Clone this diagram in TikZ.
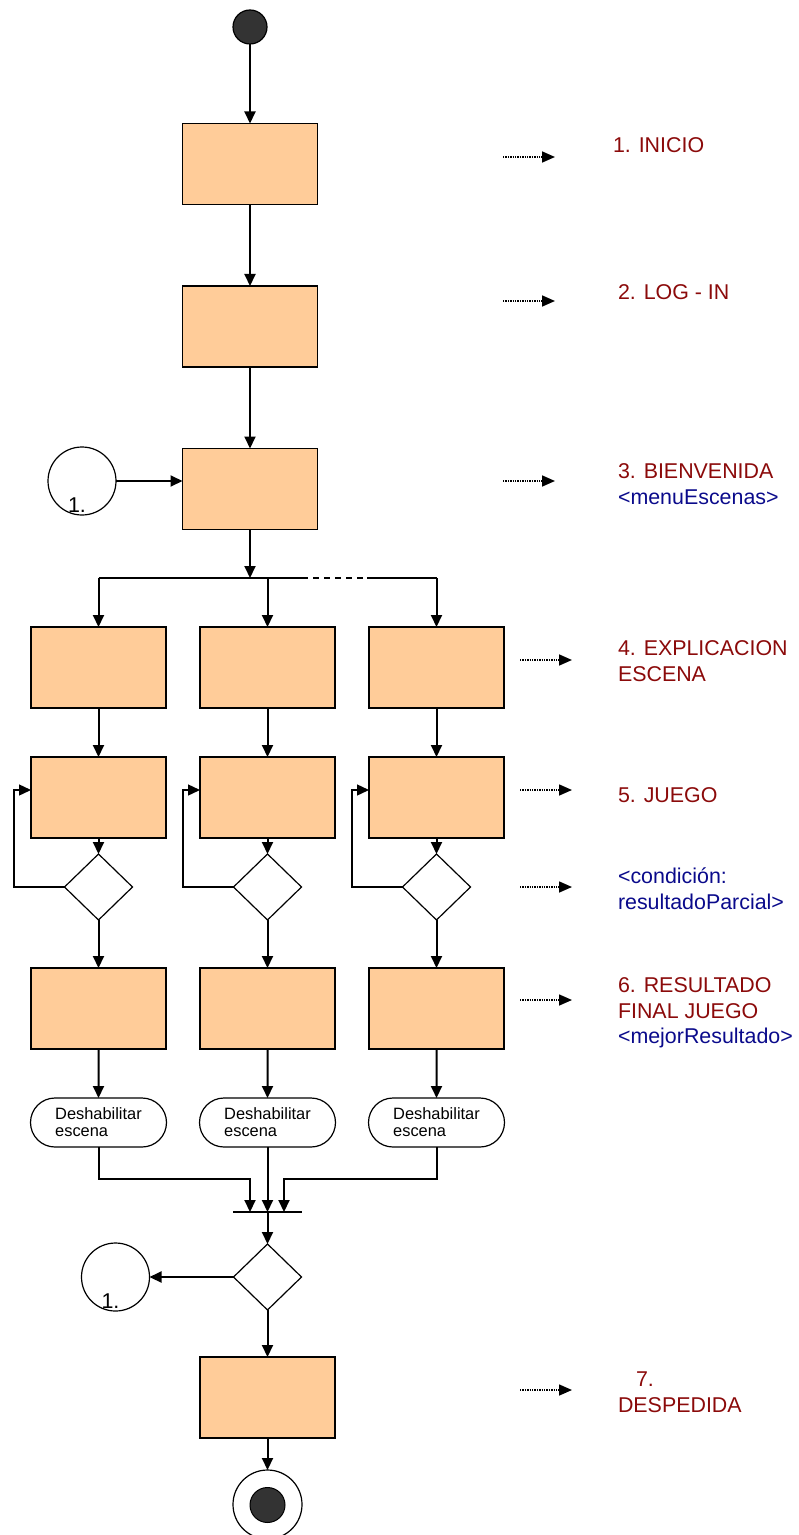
\documentclass[tikz,border=0pt]{standalone}
\usepackage{fontspec}
\setmainfont{Liberation Sans}
\usetikzlibrary{arrows.meta,shapes.geometric,shapes.misc}
\definecolor{peach}{HTML}{FFCC99}
\definecolor{lblred}{HTML}{8B0A0A}
\definecolor{lblblue}{HTML}{0A0A8B}
\definecolor{dark}{HTML}{333333}
\begin{document}
\begin{tikzpicture}[x=0.5pt,y=-0.5pt,
  every node/.style={inner sep=0pt,outer sep=0pt},
  act/.style={draw=black,line width=0.8pt,fill=peach,minimum width=67.5pt,minimum height=40.5pt},
  dec/.style={draw=black,line width=0.6pt,fill=white,diamond,minimum width=34pt,minimum height=33pt},
  conn/.style={draw=black,line width=0.6pt,circle,minimum size=34pt},
  dis/.style={draw=black,line width=0.6pt,rounded rectangle,minimum width=68pt,minimum height=24.5pt,
      font=\fontsize{8.2}{8.6}\selectfont,align=left},
  flow/.style={line width=1pt,-{Triangle[length=6pt,width=5.5pt]}},
  line/.style={line width=1pt},
  loop/.style={line width=0.7pt,-{Triangle[length=6pt,width=5.5pt]}},
  dots/.style={line width=0.8pt,dash pattern=on 0.7pt off 0.5pt,-{Triangle[length=6.5pt,width=5.5pt]}},
  lbl/.style={anchor=west,align=left,font=\fontsize{10.7}{12.8}\selectfont},
  onelbl/.style={font=\fontsize{10.7}{12.8}\selectfont,text=black}
]
\useasboundingbox (0,0) rectangle (798,1535);

% start
\node[circle,draw=black,line width=0.6pt,fill=dark,minimum size=17pt] (start) at (250,27) {};

% top column
\node[act] (b1) at (250,164) {};
\node[act] (b2) at (250,326.5) {};
\node[act] (b3) at (250,489) {};
\node[conn,label={[onelbl,xshift=-2.5pt,yshift=-12pt]center:1.}] (c1) at (82,481) {};

\draw[flow] (start) -- (b1);
\draw[flow] (b1) -- (b2);
\draw[flow] (b2) -- (b3);
\draw[flow] (c1.east) -- (c1.east -| b3.west);

% branch
\coordinate (br) at (250,578);
\coordinate (brL) at (98.5,578);
\coordinate (brM) at (267.5,578);
\coordinate (brR) at (436.5,578);
\coordinate (dA) at (302,578);
\coordinate (dB) at (367,578);
\draw[flow] (b3.south) -- (br);
\draw[line] (brL) -- (dA);
\draw[line,dash pattern=on 3pt off 2.5pt] (dA) -- (dB);
\draw[line] (dB) -- (brR);

% three columns
\foreach \i/\x in {1/98.5,2/267.5,3/436.5}{
  \node[act] (e\i) at (\x,667.5) {};
  \node[act] (j\i) at (\x,797.5) {};
  \node[dec] (d\i) at (\x,887) {};
  \node[act] (r\i) at (\x,1008.5) {};
  \node[dis] (h\i) at (\x,1122.5) {Deshabilitar\\escena};
  \coordinate (lp\i) at (\x-84.5,887);
  \coordinate (lq\i) at (\x-84.5,790);
  \coordinate (ja\i) at (\x-67.5,790);
  \draw[flow] (e\i) -- (j\i);
  \draw[flow] (j\i) -- (d\i);
  \draw[flow] (d\i) -- (r\i);
  \draw[flow] (r\i) -- (h\i);
  \draw[loop] (d\i.west) -- (lp\i) -- (lq\i) -- (ja\i);
}
\draw[flow] (brL) -- (e1);
\draw[flow] (brM) -- (e2);
\draw[flow] (brR) -- (e3);

% join bar
\coordinate (barL) at (233,1212);
\coordinate (barR) at (302,1212);
\coordinate (bar1) at (250,1212);
\coordinate (bar2) at (267.5,1212);
\coordinate (bar3) at (284,1212);
\coordinate (k1) at (98.5,1179);
\coordinate (k1b) at (250,1179);
\coordinate (k3) at (436.5,1179);
\coordinate (k3b) at (284,1179);
\draw[line] (barL) -- (barR);
\draw[flow] (h1.south) -- (k1) -- (k1b) -- (bar1);
\draw[flow] (h2.south) -- (bar2);
\draw[flow] (h3.south) -- (k3) -- (k3b) -- (bar3);

% final decision
\node[dec] (dF) at (267.5,1277) {};
\node[conn,label={[onelbl,xshift=-2.5pt,yshift=-12pt]center:1.}] (c2) at (115.5,1277) {};
\node[act] (b7) at (267.5,1397.5) {};
\draw[flow] (bar2) -- (dF);
\draw[flow] (dF) -- (c2);
\draw[flow] (dF) -- (b7);

% end
\node[circle,draw=black,line width=0.6pt,fill=white,minimum size=34.5pt] (endo) at (267.5,1504.5) {};
\node[circle,draw=black,line width=0.5pt,fill=dark,minimum size=17.5pt] (endi) at (267.5,1505) {};
\draw[flow] (b7) -- (endo);

% dotted arrows
\foreach \n/\xa/\xb/\y in {a1/503/555/157,a2/503/555/301,a3/503/555/481,a4/520/572/660,a5/520/572/790,a6/520/572/887,a7/520/572/1000,a8/520/572/1390}{
  \coordinate (\n s) at (\xa,\y);
  \coordinate (\n e) at (\xb,\y);
  \draw[dots] (\n s) -- (\n e);
}

% labels
\node[lbl,text=lblred] (t1) at (613,145) {1. INICIO};
\node[lbl,text=lblred] (t2) at (618,292) {2. LOG - IN};
\node[lbl] (t3) at (618,484) {\textcolor{lblred}{3. BIENVENIDA}\\\textcolor{lblblue}{<menuEscenas>}};
\node[lbl,text=lblred] (t4) at (618,661) {4. EXPLICACION\\ESCENA};
\node[lbl,text=lblred] (t5) at (618,795) {5. JUEGO};
\node[lbl,text=lblblue] (t6) at (618,889) {<condición:\\resultadoParcial>};
\node[lbl] (t7) at (618,1013) {\textcolor{lblred}{6. RESULTADO}\\\textcolor{lblred}{FINAL JUEGO}\\\textcolor{lblblue}{<mejorResultado>}};
\node[lbl,text=lblred] (t8a) at (636,1379) {7.};
\node[lbl,text=lblred] (t8b) at (618,1405) {DESPEDIDA};
\end{tikzpicture}
\end{document}
